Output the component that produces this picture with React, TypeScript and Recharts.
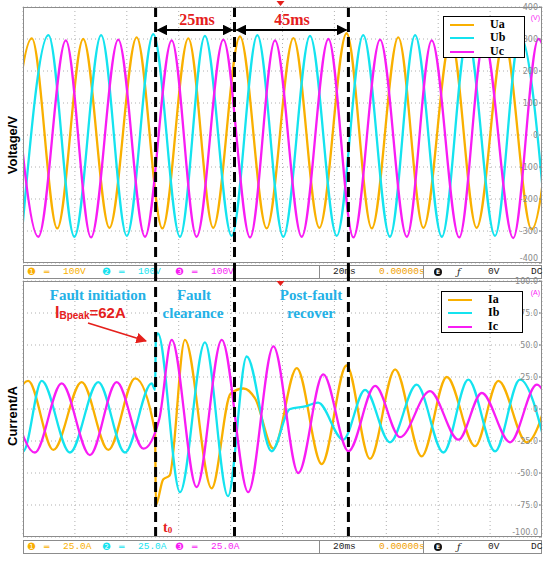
import { LineChart, Line, XAxis, YAxis, CartesianGrid, ReferenceLine } from 'recharts';

// t in ms (20 ms/div, 10 div on screen), voltage in V, current in A
// values are the peaks / troughs

const uaPts = [[-6.8,-292],[3.4,302],[13.2,-292],[23.2,300],[33.3,-290],[43.8,305],[53.7,-292],[63.7,302],[73.3,-290],[83.6,308],[93.9,-292],[104.2,303],[114.2,-290],[124.7,318],[134.4,-292],[144.6,305],[154.3,-290],[164.9,302],[174.8,-290],[185.4,300],[196.0,-295],[205.8,300]];
const ubPts = [[-0.5,-315],[9.8,312],[19.8,-318],[30.1,312],[40.0,-315],[50.2,315],[60.5,-318],[70.1,310],[80.4,-315],[90.3,312],[100.3,-318],[110.6,310],[120.9,-315],[131.1,312],[141.4,-318],[151.1,312],[161.4,-318],[171.3,310],[181.9,-315],[191.5,312],[201.9,-315]];
const ucPts = [[-4.1,296],[5.9,-318],[16.5,296],[26.2,-320],[36.7,298],[47.0,-318],[57.3,296],[66.9,-318],[77.2,298],[87.5,-320],[97.1,296],[107.4,-318],[117.7,300],[127.3,-320],[137.6,298],[147.9,-318],[157.5,296],[168.1,-320],[177.7,298],[188.9,-322],[198.6,300],[208.9,-318]];

const iaPts = [[-8.2,-30],[2.0,22],[11.7,-32],[22.6,21],[32.9,-32],[43.2,24],[50.9,-18],[51.2,-75],[54.0,-55],[56.5,-52],[62.4,54],[72.7,-62],[80.0,12],[85.0,16],[89.5,8],[96.5,-31],[105.5,32],[115.1,-43],[124.7,34],[133.7,-39],[143.4,31],[153.6,-37],[163.3,25],[174.2,-29],[183.2,22],[194.1,-26],[203.9,22]];
const ibPts = [[-10.0,22],[0.1,-33],[7.2,22],[18.1,-34],[29.0,21],[39.3,-34],[49.6,20],[50.9,15],[51.2,56],[52.0,59],[60.5,-65],[70.1,52],[79.0,-68],[86.2,41],[95.8,-33],[102.9,0],[108.7,2],[113.7,5],[123.4,-24],[131.8,15],[141.4,-26],[151.7,19],[162.0,-34],[171.6,23],[181.9,-33],[191.5,23],[201.9,-33]];
const icPts = [[-5.8,20],[4.6,-34],[14.9,20],[25.8,-36],[36.1,21],[46.4,-31],[52.5,-8],[57.3,54],[66.9,-61],[76.6,54],[86.8,-65],[96.5,49],[106.1,-50],[115.7,27],[125.4,-33],[135.7,18],[145.3,-22],[156.8,14],[167.8,-24],[176.8,12.5],[187.7,-26],[198.0,19],[206.1,-25]];

const timeTicks = [0, 20, 40, 60, 80, 100, 120, 140, 160, 180, 200];
const voltTicks = [-400, -300, -200, -100, 0, 100, 200, 300, 400];
const ampTicks = [-100, -75, -50, -25, 0, 25, 50, 75, 100];
const markers = [51.1, 81.5, 125.4]; // fault, clearance, recovered

const C_A = '#f9b000';
const C_B = '#14e3ef';
const C_C = '#f81cf4';
const CYAN_TXT = '#24b1e6';
const RED = '#e5201c';

const toRows = (pts: number[][]) => pts.map(([t, v]) => ({ t, v }));

const PL = 23, PW = 519; // plot left / width in px
const px = (t: number) => PL + (t * PW) / 200;

type Series = { name: string; color: string; pts: number[][] };

// scope-style right labels; the bottom one is nudged up so it stays off the status bar
function ScaleTick(props: any) {
  const { x, y, payload, fmt, low } = props;
  const dy = payload.value === low ? -2 : 3;
  return (
    <text x={x} y={y} dy={dy} textAnchor="end" fill="#8a8a8a" fontSize={8} fontFamily="DejaVu Sans">
      {fmt(payload.value)}
    </text>
  );
}

function Panel({ top, height, mTop, mBottom, series, domain, ticks, fmt, refSpan }: {
  top: number; height: number; mTop: number; mBottom: number; series: Series[]; domain: number[]; ticks: number[];
  fmt: (v: number) => string; refSpan: number[];
}) {
  return (
    <div style={{ position: 'absolute', left: 0, top }}>
      <LineChart width={550} height={height} margin={{ top: mTop, right: 8, bottom: mBottom, left: PL }}>
        <CartesianGrid stroke="#b0b0b0" strokeDasharray="1 3" />
        <XAxis type="number" dataKey="t" domain={[0, 200]} ticks={timeTicks} allowDataOverflow hide />
        <YAxis
          orientation="right"
          mirror
          type="number"
          domain={domain}
          ticks={ticks}
          interval={0}
          allowDataOverflow
          tick={<ScaleTick fmt={fmt} low={domain[0]} />}
          tickLine={{ stroke: '#8a8a8a' }}
          tickSize={3}
          tickMargin={1}
          axisLine={false}
        />
        {series.map((s) => (
          <Line key={s.name} data={toRows(s.pts)} dataKey="v" name={s.name} type="monotone" stroke={s.color} strokeWidth={2.3} dot={false} isAnimationActive={false} />
        ))}
        {markers.map((m) => (
          <ReferenceLine
            key={m}
            segment={[{ x: m, y: refSpan[0] }, { x: m, y: refSpan[1] }]}
            ifOverflow="visible"
            stroke="#000"
            strokeWidth={3}
            strokeDasharray="10 5"
          />
        ))}
      </LineChart>
      <div style={{ position: 'absolute', left: PL, top: mTop, width: PW, height: height - mTop - mBottom, border: '1px solid #8c8c8c', boxSizing: 'border-box', pointerEvents: 'none' }} />
    </div>
  );
}

function LegendBox({ left, top, items }: { left: number; top: number; items: Series[] }) {
  return (
    <div style={{ position: 'absolute', left, top, width: 82, height: 42, background: '#fff', border: '1px solid #000', boxSizing: 'border-box' }}>
      {items.map((s, i) => (
        <div key={s.name} style={{ position: 'absolute', left: 0, top: 0.5 + i * 13.6, height: 13, width: 80 }}>
          <div style={{ position: 'absolute', left: 6, top: 6, width: 24, height: 2, background: s.color }} />
          <span style={{ position: 'absolute', left: 46, top: 0, display: 'block', height: 13, fontFamily: '"Liberation Serif", serif', fontWeight: 'bold', fontSize: 12, lineHeight: '13px' }}>{s.name}</span>
        </div>
      ))}
    </div>
  );
}

function StatusBar({ top, unit }: { top: number; unit: string }) {
  const chans = [
    { n: '❶', c: C_A, l: 3 },
    { n: '❷', c: C_B, l: 78 },
    { n: '❸', c: C_C, l: 151 },
  ];
  const mono = { fontFamily: '"Liberation Mono", monospace', fontSize: 9.5, position: 'absolute' as const, top: 0, lineHeight: '12px' };
  return (
    <div style={{ position: 'absolute', left: PL, top, width: PW, height: 14, border: '1px solid #8c8c8c', boxSizing: 'border-box', background: '#fff' }}>
      {chans.map((ch) => (
        <div key={ch.n}>
          <span style={{ ...mono, left: ch.l, color: ch.c, fontFamily: 'DejaVu Sans', fontSize: 10 }}>{ch.n}</span>
          <span style={{ ...mono, left: ch.l + 17, color: ch.c, fontFamily: 'DejaVu Sans', fontSize: 9 }}>═</span>
          <span style={{ ...mono, left: ch.l + 36, color: ch.c }}>{unit}</span>
        </div>
      ))}
      <div style={{ position: 'absolute', left: 295, top: 0, width: 1, height: 12, background: '#8c8c8c' }} />
      <span style={{ ...mono, left: 309, color: '#222' }}>20ms</span>
      <span style={{ ...mono, left: 355, color: '#f0a000' }}>0.00000s</span>
      <div style={{ position: 'absolute', left: 399, top: 0, width: 1, height: 12, background: '#8c8c8c' }} />
      <div style={{ position: 'absolute', left: 410, top: 2, width: 8, height: 8, borderRadius: 4, background: '#111', color: '#fff', fontSize: 6, lineHeight: '8px', textAlign: 'center', fontFamily: 'DejaVu Sans', fontWeight: 'bold' }}>E</div>
      <span style={{ ...mono, left: 433, color: '#222', fontStyle: 'italic', fontFamily: 'DejaVu Serif' }}>ƒ</span>
      <span style={{ ...mono, left: 464, color: '#222' }}>0V</span>
      <span style={{ ...mono, left: 507, color: '#222' }}>DC</span>
    </div>
  );
}

export default function App() {
  const vSeries: Series[] = [
    { name: 'Ua', color: C_A, pts: uaPts },
    { name: 'Ub', color: C_B, pts: ubPts },
    { name: 'Uc', color: C_C, pts: ucPts },
  ];
  const iSeries: Series[] = [
    { name: 'Ia', color: C_A, pts: iaPts },
    { name: 'Ib', color: C_B, pts: ibPts },
    { name: 'Ic', color: C_C, pts: icPts },
  ];
  const serif = '"Liberation Serif", serif';
  const sans = '"Liberation Sans", Arial, sans-serif';

  return (
    <div style={{ position: 'absolute', left: 0, top: 0, width: 550, height: 563, background: '#fff', overflow: 'hidden' }}>
      <StatusBar top={265} unit="100V" />
      <StatusBar top={540} unit="25.0A" />
      {/* upper screen: plot y 7..263, dashed markers run down through the status bar */}
      <Panel top={0} height={278} mTop={7} mBottom={15} series={vSeries} domain={[-400, 400]} ticks={voltTicks}
        fmt={(v) => String(v)} refSpan={[400, -450]} />
      {/* lower screen: plot y 281..537 */}
      <Panel top={272} height={272} mTop={9} mBottom={7} series={iSeries} domain={[-100, 100]} ticks={ampTicks}
        fmt={(v) => (v === 0 ? '0' : v.toFixed(1))} refSpan={[107, -100]} />
      <LegendBox left={443} top={16} items={vSeries} />
      <LegendBox left={441} top={291} items={iSeries} />

      <svg width={550} height={563} style={{ position: 'absolute', left: 0, top: 0, pointerEvents: 'none' }}>
        <defs>
          <marker id="ahB" viewBox="0 0 10 10" refX="9" refY="5" markerWidth="6" markerHeight="6" orient="auto-start-reverse">
            <path d="M0,0 L10,5 L0,10 z" fill="#000" />
          </marker>
          <marker id="ahR" viewBox="0 0 10 10" refX="9" refY="5" markerWidth="6" markerHeight="6" orient="auto">
            <path d="M0,0 L10,5 L0,10 z" fill={RED} />
          </marker>
        </defs>
        <line x1={px(markers[0]) + 2} y1={30} x2={px(markers[1]) - 2} y2={30} stroke="#000" strokeWidth={1.8} markerStart="url(#ahB)" markerEnd="url(#ahB)" />
        <line x1={px(markers[1]) + 2} y1={30} x2={px(markers[2]) - 2} y2={30} stroke="#000" strokeWidth={1.8} markerStart="url(#ahB)" markerEnd="url(#ahB)" />
        <text x={197} y={25} textAnchor="middle" fontFamily={serif} fontWeight="bold" fontSize={16} fill={RED}>25ms</text>
        <text x={292} y={25} textAnchor="middle" fontFamily={serif} fontWeight="bold" fontSize={16} fill={RED}>45ms</text>
        <polygon points="276.5,1 284.5,1 280.5,6" fill={RED} />
        <polygon points="276.5,281 284.5,281 280.5,286" fill={RED} />
        <text x={540} y={20} textAnchor="end" fontFamily={sans} fontSize={7} fill={C_C}>(V)</text>
        <text x={540} y={295} textAnchor="end" fontFamily={sans} fontSize={7} fill={C_C}>(A)</text>

        <text x={12} y={145} transform="rotate(-90 12 145)" textAnchor="middle" dominantBaseline="central" fontFamily={sans} fontWeight="bold" fontSize={13} fill="#000">Voltage/V</text>
        <text x={12} y={416} transform="rotate(-90 12 416)" textAnchor="middle" dominantBaseline="central" fontFamily={sans} fontWeight="bold" fontSize={13} fill="#000">Current/A</text>

        <text x={98} y={300} textAnchor="middle" fontFamily={serif} fontWeight="bold" fontSize={15} fill={CYAN_TXT}>Fault initiation</text>
        <text x={194} y={300} textAnchor="middle" fontFamily={serif} fontWeight="bold" fontSize={15} fill={CYAN_TXT}>Fault</text>
        <text x={193} y={318} textAnchor="middle" fontFamily={serif} fontWeight="bold" fontSize={15} fill={CYAN_TXT}>clearance</text>
        <text x={311} y={300} textAnchor="middle" fontFamily={serif} fontWeight="bold" fontSize={15} fill={CYAN_TXT}>Post-fault</text>
        <text x={311} y={318} textAnchor="middle" fontFamily={serif} fontWeight="bold" fontSize={15} fill={CYAN_TXT}>recover</text>

        <text x={55} y={318} fontFamily={sans} fontWeight="bold" fill={RED}>
          <tspan fontSize={16}>I</tspan>
          <tspan fontSize={10} dy={1}>Bpeak</tspan>
          <tspan fontSize={15} dy={-1}>=62A</tspan>
        </text>
        <line x1={88} y1={323} x2={146} y2={341} stroke={RED} strokeWidth={1.8} markerEnd="url(#ahR)" />
        <text x={163} y={532} fontFamily={serif} fontWeight="bold" fill={RED}>
          <tspan fontSize={14}>t</tspan>
          <tspan fontSize={9} dy={1}>0</tspan>
        </text>
      </svg>
    </div>
  );
}
